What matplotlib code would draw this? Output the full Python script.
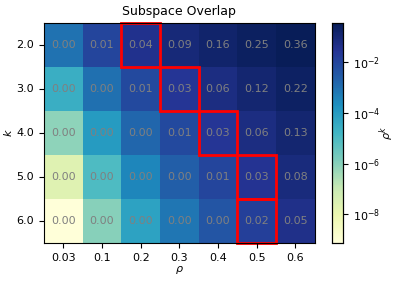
import numpy as np
import pandas as pd
import matplotlib
matplotlib.use("Agg")
import matplotlib.pyplot as plt
import seaborn as sns
from matplotlib.colors import LogNorm
from matplotlib.patches import Rectangle

rho = [0.03, 0.1, 0.2, 0.3, 0.4, 0.5, 0.6]
k = [2.0, 3.0, 4.0, 5.0, 6.0]

# overlap values, one row per k
row_k2 = [9.0e-4, 1.0e-2, 4.0e-2, 9.0e-2, 0.16, 0.25, 0.36]
row_k3 = [2.7e-5, 1.0e-3, 8.0e-3, 2.7e-2, 0.064, 0.125, 0.216]
row_k4 = [8.1e-7, 1.0e-4, 1.6e-3, 8.1e-3, 0.0256, 0.0625, 0.1296]
row_k5 = [2.4e-8, 1.0e-5, 3.2e-4, 2.4e-3, 0.0102, 0.03125, 0.0778]
row_k6 = [7.3e-10, 1.0e-6, 6.4e-5, 7.3e-4, 0.0041, 0.0156, 0.0467]

# highlighted cells (row index, column index)
boxes = [(0, 2), (1, 3), (2, 4), (3, 5), (4, 5)]

cbar_ticks = [1e-8, 1e-6, 1e-4, 1e-2]

df = pd.DataFrame([row_k2, row_k3, row_k4, row_k5, row_k6], index=k, columns=rho)

fig = plt.figure(figsize=(3.99, 2.81), dpi=100)
ax = fig.add_axes([0.110, 0.135, 0.679, 0.783])
cax = fig.add_axes([0.832, 0.135, 0.028, 0.783])

sns.heatmap(df, ax=ax, cbar_ax=cax, cmap="YlGnBu",
            norm=LogNorm(vmin=df.values.min(), vmax=df.values.max()),
            annot=True, fmt=".2f", annot_kws={"color": "gray", "fontsize": 8})
for r, c in boxes:
    ax.add_patch(Rectangle((c, r), 1, 1, fill=False, edgecolor="red", lw=2, clip_on=False))

ax.set_title("Subspace Overlap", fontsize=9)
ax.set_xlabel(r"$\rho$", fontsize=8, labelpad=1)
ax.set_ylabel("$k$", fontsize=8, labelpad=2)
ax.tick_params(labelsize=8)
plt.setp(ax.get_yticklabels(), rotation=0)
for s in ax.spines.values():
    s.set_visible(True)
    s.set_linewidth(0.8)
cax.minorticks_off()
cax.set_yticks(cbar_ticks)
cax.tick_params(labelsize=8)
cax.set_ylabel(r"$\rho^k$", fontsize=8)
cax.yaxis.set_label_coords(4.1, 0.5)
for s in cax.spines.values():
    s.set_visible(True)
    s.set_linewidth(0.8)
plt.savefig("out.png", dpi=100)
